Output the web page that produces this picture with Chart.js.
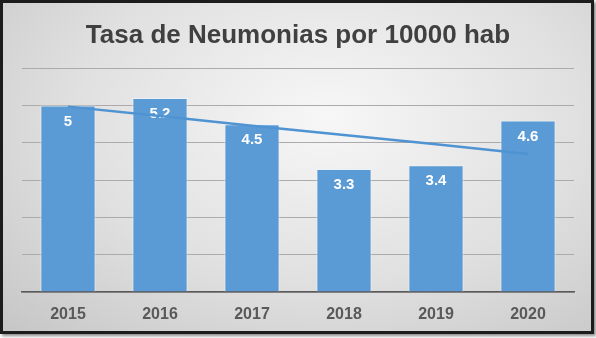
<!DOCTYPE html>
<html>
<head>
<meta charset="utf-8">
<script src="https://cdn.jsdelivr.net/npm/chart.js@4.4.1/dist/chart.umd.min.js"></script>
<style>
  html, body { margin: 0; padding: 0; background: #fff; }
  #frame {
    position: absolute; left: 0; top: 0;
    width: 588px; height: 328px;
    border: 3px solid #1c1c1c;
    box-shadow: 2px 2px 3px #888;
    background: radial-gradient(ellipse at 55% 35%, #f7f7f7 0%, #e0e0e0 55%, #c6c6c6 100%);
  }
  canvas { display: block; }
</style>
</head>
<body>
<div id="frame"><canvas id="chart" width="588" height="328"></canvas></div>
<script>
// data
const years = ['2015', '2016', '2017', '2018', '2019', '2020'];
const rates = [5, 5.2, 4.5, 3.3, 3.4, 4.6];
const rateLabels = ['5', '5.2', '4.5', '3.3', '3.4', '4.6'];
// linear trend line as drawn in the original
const trend = [4.97, 4.72, 4.46, 4.21, 3.96, 3.70];

// white value labels inside the top of each bar
const barLabels = {
    id: 'barLabels',
    afterDatasetDraw(chart, args) {
        if (args.index !== 0) return;
        const ctx = chart.ctx;
        ctx.save();
        ctx.fillStyle = '#ffffff';
        ctx.font = 'bold 15px "Liberation Sans", Arial, sans-serif';
        ctx.textAlign = 'center';
        ctx.textBaseline = 'middle';
        args.meta.data.forEach((bar, i) => {
            ctx.fillText(rateLabels[i], bar.x, bar.y + 16);
        });
        ctx.restore();
    }
};

const ctx = document.getElementById('chart').getContext('2d');
new Chart(ctx, {
    type: 'bar',
    data: {
        labels: years,
        datasets: [{
            label: 'Tasa',
            data: rates,
            backgroundColor: '#5b9bd5',
            borderColor: 'rgba(235,243,250,0.8)',
            borderWidth: 1,
            categoryPercentage: 1,
            barPercentage: 0.6,
            order: 2
        }, {
            type: 'line',
            label: 'Tendencia',
            data: trend,
            borderColor: '#4f93d2',
            borderWidth: 2.5,
            pointRadius: 0,
            fill: false,
            order: 1
        }]
    },
    options: {
        responsive: false,
        animation: false,
        layout: { padding: { left: 19, right: 17, bottom: 8 } },
        plugins: {
            legend: { display: false },
            tooltip: { enabled: false },
            title: {
                display: true,
                text: 'Tasa de Neumonias por 10000 hab',
                color: '#404040',
                font: { family: '"Liberation Sans", Arial, sans-serif', size: 26, weight: 'bold' },
                padding: { top: 17, bottom: 17 }
            }
        },
        scales: {
            x: {
                grid: { display: false, drawTicks: false },
                border: { display: true, color: '#595959', width: 1.5 },
                ticks: {
                    color: '#595959',
                    padding: 13,
                    maxRotation: 0,
                    font: { family: '"Liberation Sans", Arial, sans-serif', size: 16, weight: 'bold' }
                },
                afterFit(scale) { scale.height = 31; }
            },
            y: {
                min: 0,
                max: 6,
                ticks: { display: false, stepSize: 1 },
                grid: { color: '#ababab', lineWidth: 1, drawTicks: false },
                border: { display: false }
            }
        }
    },
    plugins: [barLabels]
});
</script>
</body>
</html>
